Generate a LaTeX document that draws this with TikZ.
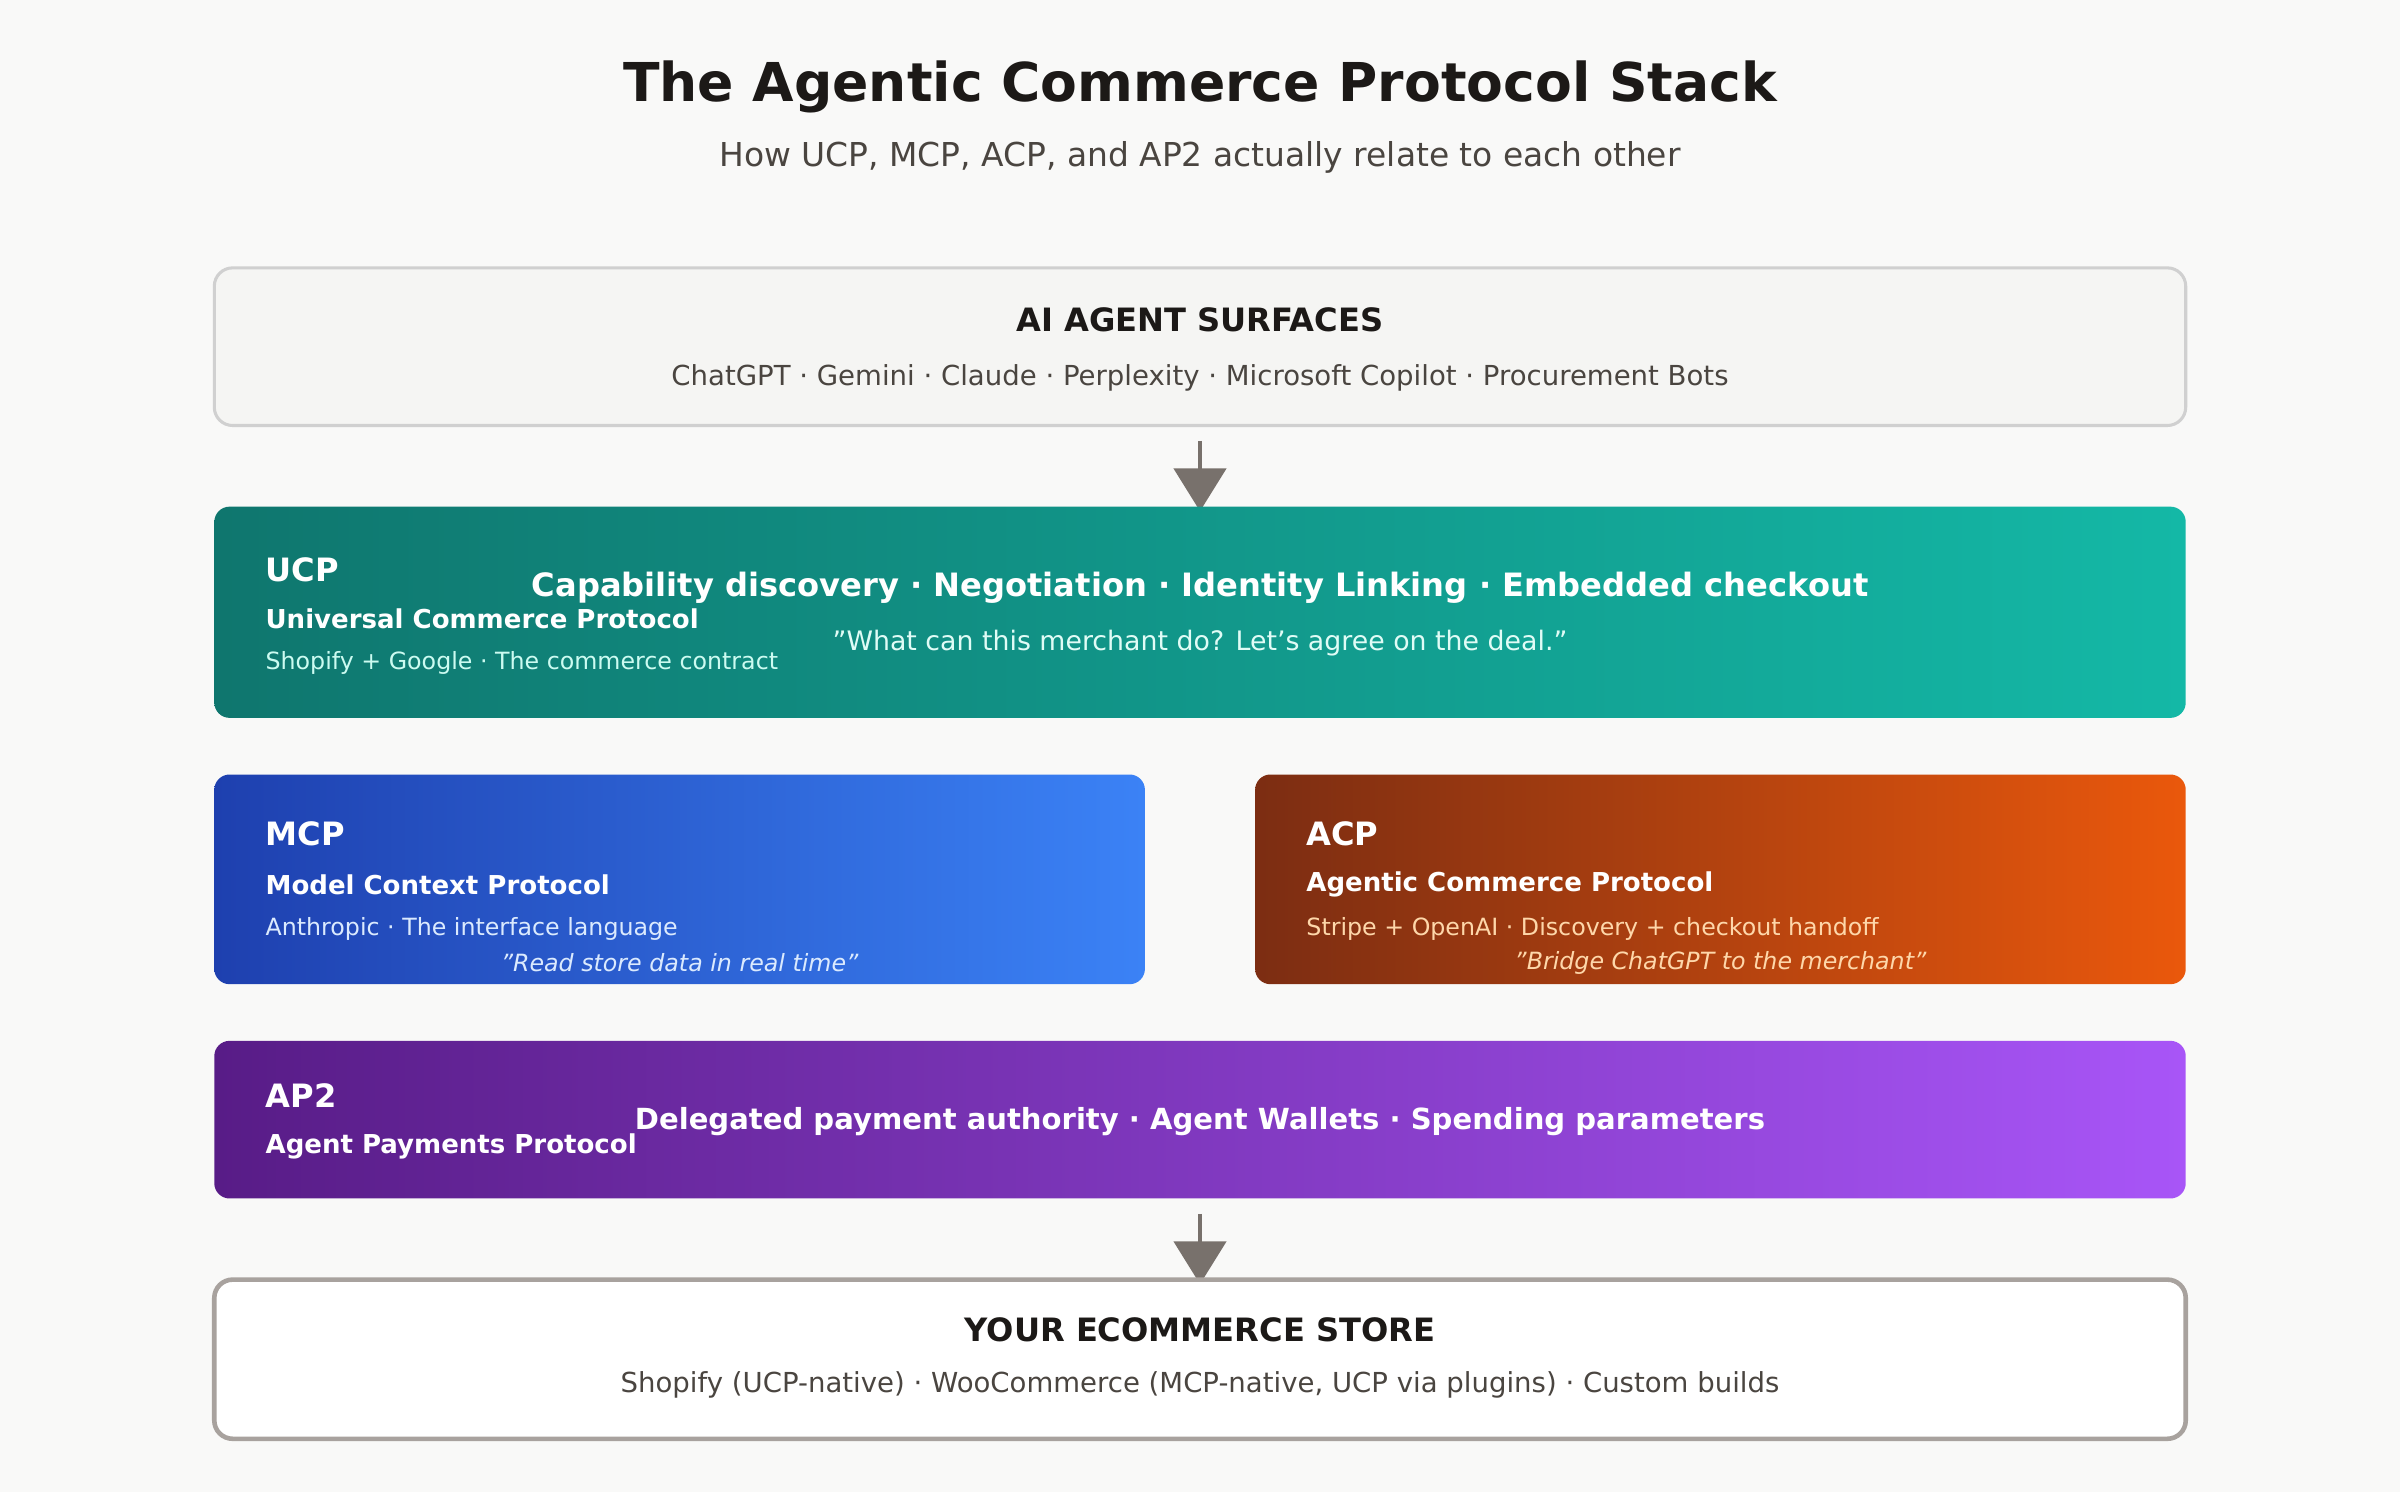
\documentclass[tikz,border=0pt]{standalone}
\usepackage{fontspec}
\setmainfont{DejaVu Sans}
\usetikzlibrary{arrows.meta}
\definecolor{bg}{HTML}{F9F9F8}
\definecolor{ink}{HTML}{1C1917}
\definecolor{sub}{HTML}{4A4540}
\definecolor{arr}{HTML}{78716C}
\tikzset{
  fs/.style={font=\fontsize{#1}{#1}\selectfont},
  band/.style={rounded corners=10pt, draw=none},
  lt/.style={anchor=west, text=white},
  conn/.style={draw=arr, line width=3pt, -{Triangle[length=28pt,width=34pt]}}
}
\begin{document}
\begin{tikzpicture}[x=1pt,y=-1pt]
\fill[bg] (0,0) rectangle (1568,975);
\useasboundingbox (0,0) rectangle (1568,975);
\node[fs=35, font=\bfseries\fontsize{35}{35}\selectfont, text=ink] (title) at (784,57) {The Agentic Commerce Protocol Stack};
\node[fs=21.5, text=sub] (subtitle) at (784,103) {How UCP, MCP, ACP, and AP2 actually relate to each other};
% surfaces
\draw[rounded corners=12pt, draw={rgb,255:red,208;green,208;blue,208}, line width=2pt, fill={rgb,255:red,245;green,245;blue,243}] (140,175) rectangle (1428,278);
\node[text=ink, font=\bfseries\fontsize{21}{21}\selectfont] (surf) at (784,209) {AI AGENT SURFACES};
\node[fs=18, text=sub] (surfl) at (784,247) {ChatGPT · Gemini · Claude · Perplexity · Microsoft Copilot · Procurement Bots};
\coordinate (a1s) at (784,288); \coordinate (a1e) at (784,334);
\draw[conn] (a1s) -- (a1e);
% UCP
\shade[band, left color={rgb,255:red,15;green,118;blue,110}, right color={rgb,255:red,20;green,184;blue,166}] (140,331) rectangle (1428,469);
\node[lt, font=\bfseries\fontsize{21}{21}\selectfont] (ucp) at (170,372) {UCP};
\node[lt, font=\bfseries\fontsize{17}{17}\selectfont] (ucpn) at (170,404) {Universal Commerce Protocol};
\node[lt, fs=15.5, text={rgb,255:red,204;green,251;blue,241}] (ucpd) at (170,433) {Shopify + Google · The commerce contract};
\node[text=white, font=\bfseries\fontsize{21}{21}\selectfont] (ucpc) at (784,384) {Capability discovery · Negotiation · Identity Linking · Embedded checkout};
\node[fs=17.5, text={rgb,255:red,224;green,252;blue,246}] (ucpq) at (784,420) {"What can this merchant do? Let's agree on the deal."};
% MCP
\shade[band, left color={rgb,255:red,30;green,64;blue,175}, right color={rgb,255:red,59;green,130;blue,246}] (140,506) rectangle (748,643);
\node[lt, font=\bfseries\fontsize{21}{21}\selectfont] (mcp) at (170,545) {MCP};
\node[lt, font=\bfseries\fontsize{17}{17}\selectfont] (mcpn) at (170,578) {Model Context Protocol};
\node[lt, fs=15.5, text={rgb,255:red,219;green,234;blue,254}] (mcpd) at (170,607) {Anthropic · The interface language};
\node[font=\itshape\fontsize{15.5}{15.5}\selectfont, text={rgb,255:red,219;green,234;blue,254}] (mcpq) at (444,629) {"Read store data in real time"};
% ACP
\shade[band, left color={rgb,255:red,124;green,45;blue,18}, right color={rgb,255:red,234;green,88;blue,12}] (820,506) rectangle (1428,643);
\node[lt, font=\bfseries\fontsize{21}{21}\selectfont] (acp) at (850,545) {ACP};
\node[lt, font=\bfseries\fontsize{17}{17}\selectfont] (acpn) at (850,578) {Agentic Commerce Protocol};
\node[lt, fs=15.5, text={rgb,255:red,254;green,215;blue,170}] (acpd) at (850,607) {Stripe + OpenAI · Discovery + checkout handoff};
\node[font=\itshape\fontsize{15.5}{15.5}\selectfont, text={rgb,255:red,254;green,215;blue,170}] (acpq) at (1124,629) {"Bridge ChatGPT to the merchant"};
% AP2
\shade[band, left color={rgb,255:red,88;green,28;blue,135}, right color={rgb,255:red,168;green,85;blue,247}] (140,680) rectangle (1428,783);
\node[lt, font=\bfseries\fontsize{21}{21}\selectfont] (ap) at (170,716) {AP2};
\node[lt, font=\bfseries\fontsize{17}{17}\selectfont] (apn) at (170,749) {Agent Payments Protocol};
\node[text=white, font=\bfseries\fontsize{19}{19}\selectfont] (apc) at (784,733) {Delegated payment authority · Agent Wallets · Spending parameters};
\coordinate (a2s) at (784,793); \coordinate (a2e) at (784,839);
\draw[conn] (a2s) -- (a2e);
% store
\draw[rounded corners=12pt, fill=white, draw={rgb,255:red,168;green,162;blue,158}, line width=3pt] (140,836) rectangle (1428,940);
\node[text=ink, font=\bfseries\fontsize{21}{21}\selectfont] (st) at (784,869) {YOUR ECOMMERCE STORE};
\node[fs=18, text=sub] (stl) at (784,905) {Shopify (UCP-native) · WooCommerce (MCP-native, UCP via plugins) · Custom builds};
\end{tikzpicture}
\end{document}
